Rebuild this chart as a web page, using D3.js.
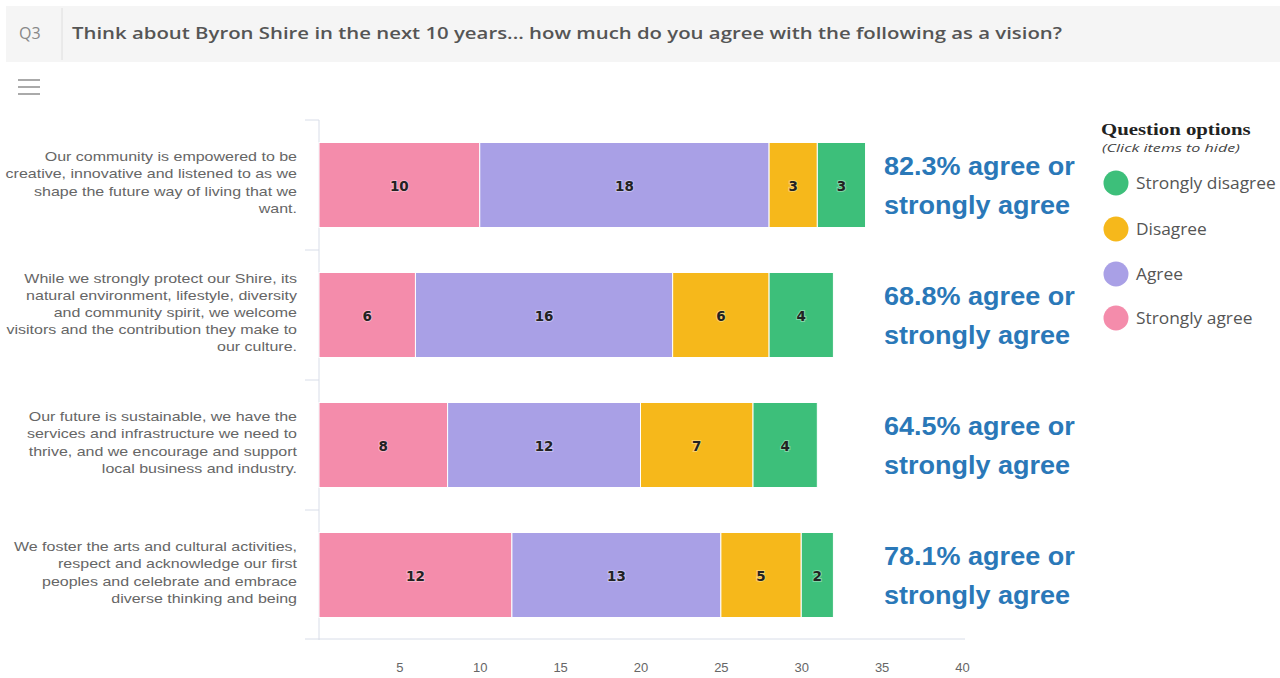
<!DOCTYPE html>
<html>
<head>
<meta charset="utf-8">
<script src="https://cdn.jsdelivr.net/npm/d3@7"></script>
<style>
  body { margin: 0; background: #fff; overflow: hidden; }
</style>
</head>
<body>
<script>
var categories = [
  "Our community is empowered to be|creative, innovative and listened to as we|shape the future way of living that we|want.",
  "While we strongly protect our Shire, its|natural environment, lifestyle, diversity|and community spirit, we welcome|visitors and the contribution they make to|our culture.",
  "Our future is sustainable, we have the|services and infrastructure we need to|thrive, and we encourage and support|local business and industry.",
  "We foster the arts and cultural activities,|respect and acknowledge our first|peoples and celebrate and embrace|diverse thinking and being"
];
var seriesNames = ["Strongly agree", "Agree", "Disagree", "Strongly disagree"];
var stronglyAgree = [10, 6, 8, 12];
var agree = [18, 16, 12, 13];
var disagree = [3, 6, 7, 5];
var stronglyDisagree = [3, 4, 4, 2];
var agreeShare = ["82.3%", "68.8%", "64.5%", "78.1%"];
var xTicks = [5, 10, 15, 20, 25, 30, 35, 40];
var colors = ["#f48cab", "#a9a0e6", "#f6b81b", "#3dbf7a"];

var values = [stronglyAgree, agree, disagree, stronglyDisagree];

var svg = d3.select("body").append("svg")
  .attr("width", 1280)
  .attr("height", 678);

// stretch a text element horizontally around its anchor x
function stretch(sel, ax, f) {
  sel.attr("transform", "translate(" + ax + ",0) scale(" + f + ",1) translate(" + (-ax) + ",0)");
}

// header bar
svg.append("rect").attr("x", 6).attr("y", 6).attr("width", 1274).attr("height", 56).attr("fill", "#f5f5f5");
svg.append("line").attr("x1", 62).attr("x2", 62).attr("y1", 8).attr("y2", 60).attr("stroke", "#dedede");
svg.append("text").attr("x", 19).attr("y", 39).text("Q3")
  .style("font-family", "Open Sans").style("font-size", "16px").style("fill", "#888");
svg.append("text").attr("x", 72).attr("y", 39)
  .text("Think about Byron Shire in the next 10 years... how much do you agree with the following as a vision?")
  .style("font-family", "Open Sans").style("font-size", "17px").style("font-weight", 600).style("fill", "#555")
  .attr("textLength", 990).attr("lengthAdjust", "spacingAndGlyphs");

// menu icon
[80, 87, 94].forEach(function(y) {
  svg.append("rect").attr("x", 18).attr("y", y - 1).attr("width", 22).attr("height", 2).attr("fill", "#aaa");
});

var x = d3.scaleLinear().domain([0, 40]).range([319, 962]);
var y = d3.scaleBand().domain(d3.range(categories.length)).range([120, 640]).paddingInner(0.346).paddingOuter(0.173);

// axes
svg.append("line").attr("x1", 319).attr("x2", 319).attr("y1", 120).attr("y2", 640).attr("stroke", "#d8dde8");
var catTicks = [120, 250, 380, 510];
catTicks.forEach(function(t) {
  svg.append("line").attr("x1", 305).attr("x2", 319).attr("y1", t).attr("y2", t).attr("stroke", "#d8dde8");
});
svg.append("line").attr("x1", 305).attr("x2", 965).attr("y1", 639).attr("y2", 639).attr("stroke", "#d8dde8");

var xAxis = svg.append("g").attr("transform", "translate(0,639)")
  .call(d3.axisBottom(x).tickValues(xTicks).tickSize(0).tickPadding(24));
xAxis.select(".domain").remove();
xAxis.selectAll("text").style("font-family", "Liberation Sans").style("font-size", "13px").style("fill", "#666");

// category labels
categories.forEach(function(c, i) {
  var lines = c.split("|");
  var cy = y(i) + y.bandwidth() / 2;
  var lh = 17.2;
  var t = svg.append("text").attr("text-anchor", "end")
    .style("font-family", "Liberation Sans").style("font-size", "13px").style("fill", "#666");
  lines.forEach(function(l, k) {
    t.append("tspan").attr("x", 297)
      .attr("y", cy + (k - (lines.length - 1) / 2) * lh + 2)
      .text(l);
  });
  stretch(t, 297, 1.23);
});

// stacked bars
var stacked = d3.stack().keys(d3.range(values.length))
  .value(function(d, k) { return values[k][d]; })(d3.range(categories.length));

var groups = svg.selectAll("g.series").data(stacked).enter().append("g").attr("class", "series")
  .attr("fill", function(d, k) { return colors[k]; });

groups.selectAll("rect").data(function(d) { return d; }).enter().append("rect")
  .attr("x", function(d) { return x(d[0]); })
  .attr("y", function(d, i) { return y(i); })
  .attr("width", function(d) { return x(d[1]) - x(d[0]); })
  .attr("height", y.bandwidth())
  .attr("stroke", "#fff").attr("stroke-width", 1);

groups.selectAll("text").data(function(d) { return d; }).enter().append("text")
  .attr("x", function(d) { return (x(d[0]) + x(d[1])) / 2; })
  .attr("y", function(d, i) { return y(i) + y.bandwidth() / 2 + 6; })
  .attr("text-anchor", "middle")
  .text(function(d) { return d[1] - d[0]; })
  .style("font-family", "DejaVu Sans").style("font-size", "13.5px").style("font-weight", "bold")
  .style("fill", "#222").style("paint-order", "stroke").style("stroke", "rgba(255,255,255,0.35)").style("stroke-width", "2px");

// agreement annotations
agreeShare.forEach(function(p, i) {
  var cy = y(i) + y.bandwidth() / 2;
  var t = svg.append("text").style("font-family", "Liberation Sans").style("font-size", "26.5px")
    .style("font-weight", "bold").style("fill", "#2a78b8");
  t.append("tspan").attr("x", 884).attr("y", cy - 10).text(p + " agree or");
  t.append("tspan").attr("x", 884).attr("y", cy + 29).text("strongly agree");
  stretch(t, 884, 1.02);
});

// legend
stretch(svg.append("text").attr("x", 1101).attr("y", 135).text("Question options")
  .style("font-family", "Liberation Serif").style("font-size", "16px").style("font-weight", "bold").style("fill", "#222"), 1101, 1.3);
stretch(svg.append("text").attr("x", 1102).attr("y", 152).text("(Click items to hide)")
  .style("font-family", "Open Sans").style("font-size", "11.5px").style("font-style", "italic").style("fill", "#444"), 1102, 1.4);

var legendOrder = [3, 2, 1, 0];
var legendY = [183, 229, 274, 318];
legendOrder.forEach(function(k, j) {
  svg.append("circle").attr("cx", 1116).attr("cy", legendY[j]).attr("r", 12.5).attr("fill", colors[k]);
  stretch(svg.append("text").attr("x", 1136).attr("y", legendY[j] + 6).text(seriesNames[k])
    .style("font-family", "Open Sans").style("font-size", "15.5px").style("fill", "#555"), 1136, 1.12);
});
</script>
</body>
</html>
